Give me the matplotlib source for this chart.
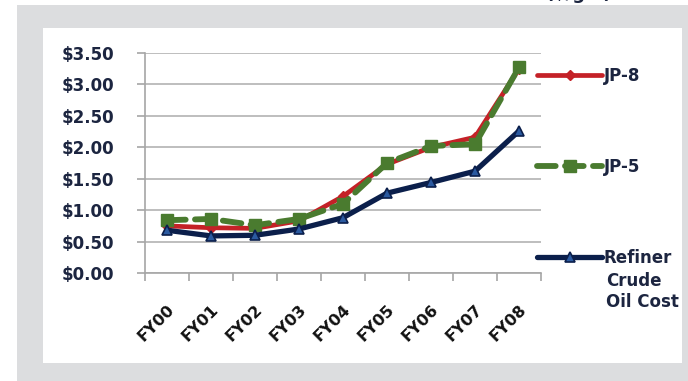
import matplotlib
matplotlib.use("Agg")
import matplotlib.pyplot as plt
from matplotlib.patches import Rectangle
import matplotlib.transforms as mtransforms

categories = ["FY00", "FY01", "FY02", "FY03", "FY04", "FY05", "FY06", "FY07", "FY08"]
jp8 = [0.75, 0.72, 0.71, 0.83, 1.22, 1.73, 2.00, 2.16, 3.25]
jp5 = [0.84, 0.86, 0.76, 0.86, 1.10, 1.75, 2.02, 2.05, 3.27]
crude = [0.68, 0.59, 0.60, 0.70, 0.88, 1.27, 1.44, 1.62, 2.26]
ytick_vals = [0.0, 0.5, 1.0, 1.5, 2.0, 2.5, 3.0, 3.5]
ytick_labels = ["$0.00", "$0.50", "$1.00", "$1.50", "$2.00", "$2.50", "$3.00", "$3.50"]

W, H = 688, 381
fig = plt.figure(figsize=(W / 100, H / 100), dpi=100, facecolor="white")

def px_rect(x0, y0, x1, y1, color):
    fig.patches.append(Rectangle((x0 / W, 1 - y1 / H), (x1 - x0) / W, (y1 - y0) / H,
                                 transform=fig.transFigure, facecolor=color,
                                 edgecolor="none", zorder=-10))

px_rect(17, 4.5, 688, 381, "#dcdddf")
px_rect(43, 28, 682, 363, "white")

# Units text that is mostly cut off at the top edge in the reference
fig.text(579 / W, 1 + 1 / H, "($/gal)", ha="center", va="baseline",
         fontsize=13, fontweight="bold", color="#1c2540", family="DejaVu Sans")

ax = fig.add_axes([145 / W, 1 - 273 / H, 396 / W, 220 / H])
ax.set_facecolor("none")

RED = "#c42127"
GREEN = "#4a7b2f"
NAVY = "#0b1f4b"
TRI = "#2b5aa0"

x = list(range(len(categories)))
ax.plot(x, jp8, color=RED, lw=3.4, marker="D", markersize=5.5,
        markerfacecolor=RED, markeredgecolor=RED, zorder=3, label="JP-8",
        solid_capstyle="round")
ax.plot(x, jp5, color=GREEN, lw=4.2, ls=(0, (3.2, 1.6)), marker="s", markersize=8,
        markerfacecolor=GREEN, markeredgecolor=GREEN, zorder=4, label="JP-5",
        dash_capstyle="round")
ax.plot(x, crude, color=NAVY, lw=3.8, marker="^", markersize=7.5,
        markerfacecolor=TRI, markeredgecolor=NAVY, markeredgewidth=1.2, zorder=5,
        label="Refiner", solid_capstyle="round")

ax.set_xlim(-0.5, len(categories) - 0.5)
ax.set_ylim(0, 3.5)
ax.set_yticks(ytick_vals)
ax.set_yticklabels(ytick_labels)
ax.yaxis.grid(True, color="#b3b3b3", lw=1.2)
ax.set_axisbelow(True)

ax.set_xticks([i - 0.5 for i in range(len(categories) + 1)])
ax.set_xticklabels([])
ax.set_xticks(x, minor=True)
ax.set_xticklabels(categories, minor=True, rotation=45, ha="right", va="top",
                   rotation_mode="anchor", fontsize=11.5, fontweight="bold",
                   color="#111111", family="DejaVu Sans")
shift = mtransforms.ScaledTranslation(-5 / 100, 0, fig.dpi_scale_trans)
for lab in ax.get_xticklabels(minor=True):
    lab.set_transform(lab.get_transform() + shift)
ax.tick_params(axis="x", which="minor", length=0, pad=21)
ax.tick_params(axis="x", which="major", direction="out", length=6, width=1.2, color="#a6a6a6")
ax.tick_params(axis="y", direction="out", length=6, width=1.2, color="#a6a6a6", pad=16,
               labelsize=12, labelcolor="#1c2540")
for lab in ax.get_yticklabels():
    lab.set_fontweight("bold")
    lab.set_family("DejaVu Sans")

for s in ["top", "right"]:
    ax.spines[s].set_visible(False)
ax.spines["left"].set_color("#a6a6a6")
ax.spines["left"].set_linewidth(1.2)
ax.spines["bottom"].set_color("#a6a6a6")
ax.spines["bottom"].set_linewidth(1.2)

leg = fig.legend(loc="upper left", bbox_to_anchor=(537 / W, 1 - 67 / H),
                 frameon=False, handlelength=3.9, handletextpad=0.1,
                 labelspacing=4.38, borderpad=0, borderaxespad=0,
                 prop={"family": "DejaVu Sans", "weight": "bold", "size": 12})
for t in leg.get_texts():
    t.set_color("#1c2540")

fig.text(606 / W, 1 - 272 / H, "Crude\nOil Cost", ha="left", va="top",
         fontsize=12, fontweight="bold", color="#1c2540", family="DejaVu Sans",
         linespacing=1.2)

fig.savefig("out.png", dpi=100, facecolor=fig.get_facecolor())
